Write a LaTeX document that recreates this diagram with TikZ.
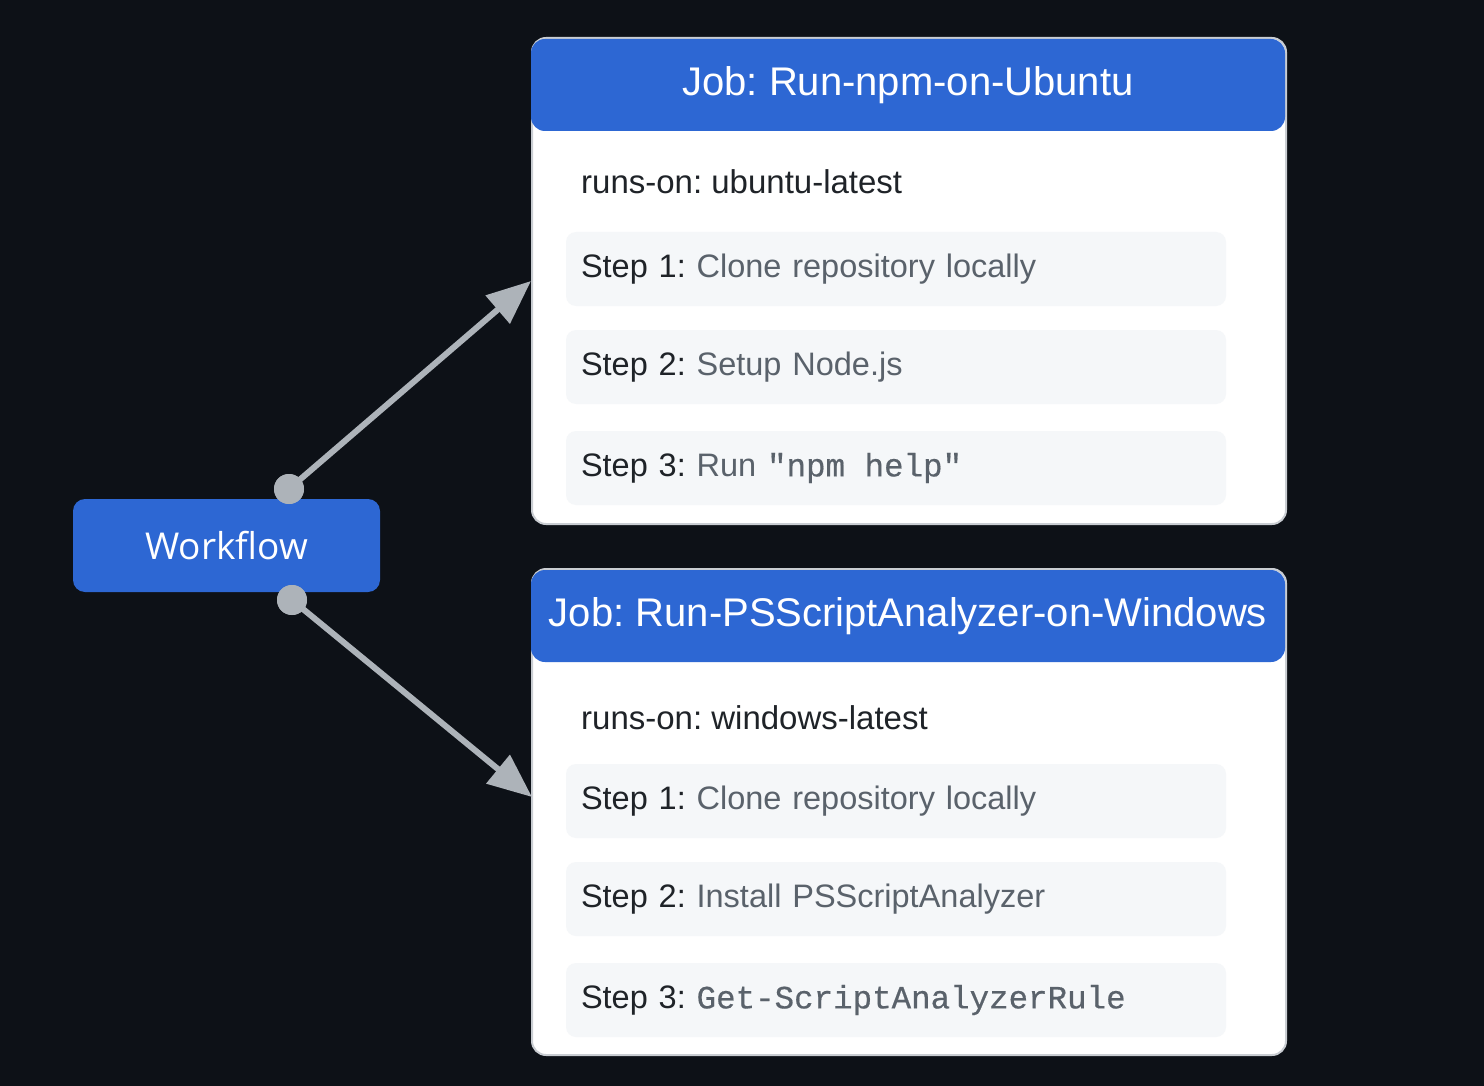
\documentclass[tikz,border=0pt]{standalone}
\usepackage{fontspec}
\setmainfont{Liberation Sans}
\setmonofont[FakeBold=0.5]{Liberation Mono}
\newfontfamily\wffont{Open Sans}
\usetikzlibrary{arrows.meta}
\definecolor{bgdark}{HTML}{0D1117}
\definecolor{jobblue}{HTML}{2D67D3}
\definecolor{cardborder}{HTML}{C9CDD2}
\definecolor{stepfill}{HTML}{F5F7F9}
\definecolor{txtdark}{HTML}{1F2328}
\definecolor{txtgray}{HTML}{5A626B}
\definecolor{conngray}{HTML}{ADB3B9}
\tikzset{
  card/.style={draw=cardborder, line width=2pt, fill=white, rounded corners=14pt,
    minimum width=754pt, minimum height=486pt, inner sep=0pt},
  header/.style={fill=jobblue, rounded corners=14pt, minimum width=754pt,
    minimum height=92pt, inner sep=0pt, text=white, font=\fontsize{40}{46}\selectfont},
  stepbox/.style={fill=stepfill, rounded corners=10pt, minimum width=660pt,
    minimum height=74pt, text width=630pt, inner xsep=15pt, align=left,
    font=\fontsize{32.5}{40}\selectfont, text=txtgray},
  runson/.style={anchor=west, inner sep=0pt, text=txtdark, font=\fontsize{33}{40}\selectfont},
  wfbox/.style={fill=jobblue, rounded corners=12pt, minimum width=307pt,
    minimum height=93pt, inner sep=0pt, text=white, font=\wffont\fontsize{37}{42}\selectfont},
  dot/.style={circle, fill=conngray, minimum size=30pt, inner sep=0pt},
  conn/.style={draw=conngray, line width=6pt, -{Triangle[length=44pt, width=36pt]}},
}
\newcommand{\stepl}[1]{\textcolor{txtdark}{#1}}
\begin{document}
\frenchspacing
\begin{tikzpicture}[x=1pt, y=-1pt]
\fill[bgdark] (0,0) rectangle (1484,1086);
\useasboundingbox (0,0) rectangle (1484,1086);

% Job 1
\node[card] (c1) at (909,281) {};
\node[header] (h1) at (908,85) {Job: Run-npm-on-Ubuntu};
\node[runson] (r1) at (581,182) {runs-on: ubuntu-latest};
\node[stepbox] (s11) at (896,269) {\stepl{Step 1:} Clone repository locally};
\node[stepbox] (s12) at (896,367) {\stepl{Step 2:} Setup Node.js};
\node[stepbox] (s13) at (896,468) {\stepl{Step 3:} Run {\ttfamily "npm\hspace{0.6em}help"}};

% Job 2
\node[card] (c2) at (909,812) {};
\node[header] (h2) at (908,616) {Job: Run-PSScriptAnalyzer-on-Windows};
\node[runson] (r2) at (581,718) {runs-on: windows-latest};
\node[stepbox] (s21) at (896,801) {\stepl{Step 1:} Clone repository locally};
\node[stepbox] (s22) at (896,899) {\stepl{Step 2:} Install PSScriptAnalyzer};
\node[stepbox] (s23) at (896,1000) {\stepl{Step 3:} \texttt{Get-ScriptAnalyzerRule}};

% Workflow
\node[wfbox] (wf) at (226.5,545.5) {\raisebox{1pt}{Workflow}};
\coordinate (t2) at (532,797);
\node[dot] (d1) at (289,489) {};
\node[dot] (d2) at (292,600) {};
\draw[conn] (d1.center) -- (c1.west);
\draw[conn] (d2.center) -- (t2);
\node[dot] at (d1) {};
\node[dot] at (d2) {};
\end{tikzpicture}
\end{document}
